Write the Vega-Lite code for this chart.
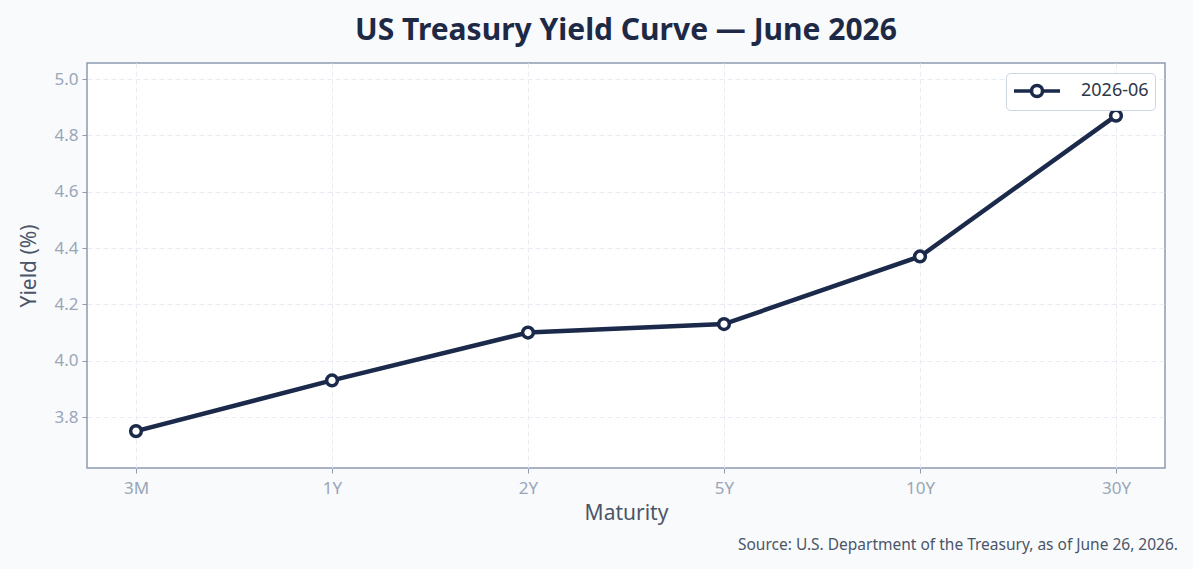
{
  "$schema": "https://vega.github.io/schema/vega-lite/v6.json",
  "autosize": "none",
  "width": 1078,
  "height": 405,
  "padding": {"left": 87, "top": 63, "right": 28, "bottom": 101},
  "background": "#f8fafc",
  "title": {
    "text": "US Treasury Yield Curve — June 2026",
    "font": "Noto Sans",
    "fontSize": 30,
    "fontWeight": "bold",
    "color": "#1e2a45",
    "anchor": "middle",
    "offset": 17
  },
  "config": {
    "font": "Noto Sans",
    "view": {"fill": "white", "stroke": "#8e9bb0", "strokeWidth": 1.5},
    "axis": {
      "labelFont": "Noto Sans",
      "labelFontSize": 17,
      "labelColor": "#9aa6b8",
      "titleFont": "Noto Sans",
      "titleFontSize": 21,
      "titleFontWeight": "normal",
      "titleColor": "#4b5568",
      "tickColor": "#8e9bb0",
      "tickSize": 5,
      "domain": false,
      "gridColor": "#e8edf3",
      "gridDash": [5, 3],
      "gridWidth": 1
    }
  },
  "data": {
    "values": [
      {"maturity": "3M", "yield": 3.75, "series": "2026-06"},
      {"maturity": "1Y", "yield": 3.93, "series": "2026-06"},
      {"maturity": "2Y", "yield": 4.10, "series": "2026-06"},
      {"maturity": "5Y", "yield": 4.13, "series": "2026-06"},
      {"maturity": "10Y", "yield": 4.37, "series": "2026-06"},
      {"maturity": "30Y", "yield": 4.87, "series": "2026-06"}
    ]
  },
  "layer": [
    {
      "mark": {
        "type": "line",
        "strokeWidth": 4.5,
        "point": {"filled": false, "fill": "white", "size": 115, "strokeWidth": 3.5}
      },
      "encoding": {
        "x": {
          "field": "maturity",
          "type": "ordinal",
          "sort": null,
          "scale": {"type": "point", "padding": 0.25},
          "axis": {"title": "Maturity", "labelAngle": 0, "labelPadding": 7, "titlePadding": 6, "grid": true}
        },
        "y": {
          "field": "yield",
          "type": "quantitative",
          "scale": {"domain": [3.619, 5.057], "nice": false, "zero": false},
          "axis": {"title": "Yield (%)", "values": [3.8, 4.0, 4.2, 4.4, 4.6, 4.8, 5.0], "format": ".1f", "labelPadding": 4, "titlePadding": 14, "grid": true}
        },
        "color": {
          "field": "series",
          "type": "nominal",
          "scale": {"range": ["#1b2a4a"]},
          "legend": {
            "title": null,
            "orient": "top-right",
            "offset": 10,
            "fillColor": "white",
            "strokeColor": "#cdd5e0",
            "cornerRadius": 4,
            "padding": 6,
            "labelFont": "Noto Sans",
            "labelFontSize": 18,
            "labelColor": "#2d3748",
            "labelOffset": 45,
            "symbolType": "M-1,0L0.7,0M1.9,0L3.6,0M0.75,0A0.55,0.55 0 1,1 1.85,0A0.55,0.55 0 1,1 0.75,0",
            "symbolSize": 400,
            "symbolStrokeWidth": 3.5,
            "symbolFillColor": "white",
            "symbolStrokeColor": "#1b2a4a"
          }
        }
      }
    },
    {
      "data": {"values": [{"note": "Source: U.S. Department of the Treasury, as of June 26, 2026."}]},
      "mark": {"type": "text", "align": "right", "baseline": "middle", "fontSize": 15.5, "color": "#4b5568", "dx": 13, "dy": 77},
      "encoding": {
        "text": {"field": "note"},
        "x": {"value": "width"},
        "y": {"value": "height"}
      }
    }
  ]
}
